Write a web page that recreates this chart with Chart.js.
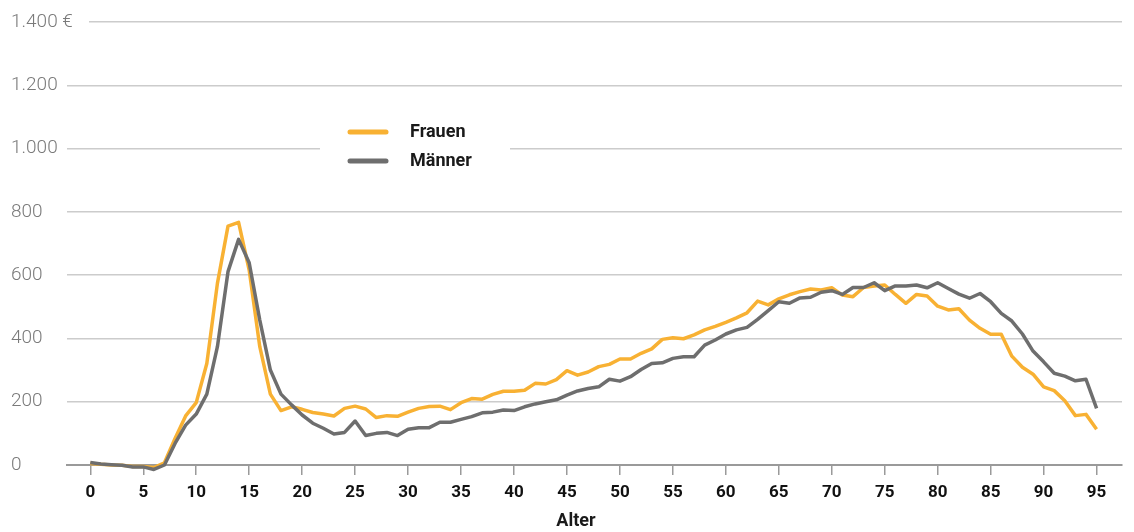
<!DOCTYPE html>
<html>
<head>
<meta charset="utf-8">
<script src="https://cdn.jsdelivr.net/npm/chart.js@4/dist/chart.umd.min.js"></script>
<style>
  html, body { margin: 0; padding: 0; background: #ffffff; }
  #wrap { width: 1134px; height: 532px; }
</style>
</head>
<body>
<div id="wrap"><canvas id="c" width="1134" height="532"></canvas></div>
<script>
// ---- data ----
const ages = Array.from({length: 96}, (_, i) => i);
const frauen = [5, 2, 0, -1, -5, -5, -8, 7, 84, 155, 197, 321, 574, 755, 767, 616, 374, 224, 172, 184,
  176, 166, 161, 155, 179, 186, 177, 150, 156, 154, 167, 179, 185, 186, 175, 197, 210, 208, 223, 233,
  233, 236, 258, 256, 270, 298, 284, 294, 311, 318, 335, 335, 353, 367, 397, 402, 399, 411, 427, 438,
  451, 465, 481, 518, 506, 525, 538, 548, 556, 553, 560, 537, 532, 561, 566, 569, 539, 511, 539, 534,
  502, 490, 494, 458, 432, 413, 413, 344, 309, 287, 247, 235, 203, 156, 160, 113];
const maenner = [8, 3, 1, -1, -6, -6, -14, 0, 68, 126, 161, 224, 374, 611, 713, 639, 458, 300, 224, 190,
  158, 132, 116, 98, 103, 139, 93, 100, 103, 93, 113, 118, 118, 135, 135, 144, 153, 165, 167, 174,
  172, 184, 193, 200, 206, 221, 234, 242, 247, 271, 265, 279, 302, 321, 323, 337, 342, 342, 379, 395,
  414, 427, 435, 460, 488, 516, 511, 528, 530, 546, 551, 539, 561, 561, 576, 551, 566, 566, 569, 560,
  576, 558, 540, 527, 542, 516, 479, 455, 414, 360, 326, 290, 281, 266, 271, 179];
const seriesNames = ['Frauen', 'Männer'];
const yTickValues = [0, 200, 400, 600, 800, 1000, 1200, 1400];
const xTitle = 'Alter';
const currencySuffix = ' €';

const ORANGE = '#F8B133';
const GREY = '#6E6E6E';
const Y_FONT = '300 19px Roboto';
const BOLD_FONT = 'bold 18px Roboto';

function fmtThousands(v) {
  return String(v).replace(/\B(?=(\d{3})+(?!\d))/g, '.');
}

const overlayPlugin = {
  id: 'overlay',
  beforeDatasetsDraw(chart) {
    const ctx = chart.ctx;
    const ys = chart.scales.y;
    const area = chart.chartArea;
    ctx.save();
    // gap between top label and its grid line
    const yTop = ys.getPixelForValue(1400);
    ctx.fillStyle = '#ffffff';
    ctx.fillRect(area.left - 2, yTop - 3, 89 - (area.left - 2), 6);
    ctx.font = Y_FONT;
    ctx.fillStyle = '#7a7a7a';
    ctx.textBaseline = 'middle';
    ctx.textAlign = 'left';
    ctx.fillText(fmtThousands(1400) + currencySuffix, 11, yTop);

    // legend box
    ctx.fillStyle = '#ffffff';
    ctx.fillRect(320, 112, 190, 64);
    const items = [
      {label: seriesNames[0], color: ORANGE, y: 132},
      {label: seriesNames[1], color: GREY, y: 161}
    ];
    ctx.lineCap = 'round';
    ctx.lineWidth = 5;
    items.forEach(it => {
      ctx.strokeStyle = it.color;
      ctx.beginPath();
      ctx.moveTo(350, it.y);
      ctx.lineTo(386, it.y);
      ctx.stroke();
      ctx.fillStyle = '#1a1a1a';
      ctx.font = BOLD_FONT;
      ctx.textBaseline = 'middle';
      ctx.textAlign = 'left';
      ctx.fillText(it.label, 410, it.y);
    });

    // axis title
    ctx.fillStyle = '#1a1a1a';
    ctx.font = BOLD_FONT;
    ctx.textAlign = 'center';
    ctx.textBaseline = 'middle';
    ctx.fillText(xTitle, 576, 521);
    ctx.restore();
  }
};

new Chart(document.getElementById('c'), {
  type: 'line',
  data: {
    datasets: [
      {
        label: seriesNames[0],
        data: ages.map((a, i) => ({x: a, y: frauen[i]})),
        borderColor: ORANGE,
        borderWidth: 3.5,
        pointRadius: 0,
        tension: 0,
        borderJoinStyle: 'round',
        clip: false,
        order: 2
      },
      {
        label: seriesNames[1],
        data: ages.map((a, i) => ({x: a, y: maenner[i]})),
        borderColor: GREY,
        borderWidth: 3.5,
        pointRadius: 0,
        tension: 0,
        borderJoinStyle: 'round',
        clip: false,
        order: 1
      }
    ]
  },
  options: {
    responsive: false,
    devicePixelRatio: 1,
    animation: false,
    layout: { padding: { left: 11, right: 12, top: 22, bottom: 0 } },
    plugins: { legend: { display: false }, tooltip: { enabled: false } },
    scales: {
      x: {
        type: 'linear',
        min: -2.2,
        max: 97.4,
        afterFit(scale) { scale.height = 67; },
        afterBuildTicks(scale) {
          scale.ticks = ages.filter(a => a % 5 === 0).map(v => ({value: v}));
        },
        ticks: {
          includeBounds: false,
          color: '#111111',
          font: { family: 'Roboto', size: 17, weight: 'bold' },
          padding: 8,
          maxRotation: 0,
          autoSkip: false
        },
        grid: { drawOnChartArea: false, drawTicks: true, tickLength: 10, color: '#9a9a9a', lineWidth: 1.5 },
        border: { display: true, color: '#9a9a9a', width: 2 }
      },
      y: {
        min: 0,
        max: 1400,
        afterFit(scale) { scale.width = 56; },
        afterBuildTicks(scale) {
          scale.ticks = yTickValues.map(v => ({value: v}));
        },
        ticks: {
          crossAlign: 'far',
          padding: 0,
          color: '#7a7a7a',
          font: { family: 'Roboto', size: 19, weight: '300' },
          callback: (v) => v === 1400 ? '' : fmtThousands(v)
        },
        grid: { drawTicks: false, color: '#cccccc', lineWidth: 1.5 },
        border: { display: false }
      }
    }
  },
  plugins: [overlayPlugin]
});
</script>
</body>
</html>
